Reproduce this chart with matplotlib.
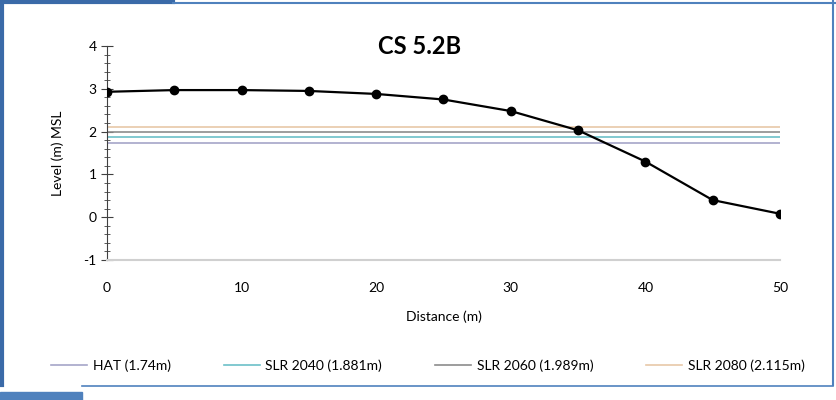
import matplotlib.pyplot as plt
from matplotlib.patches import Rectangle
from matplotlib.lines import Line2D
from matplotlib.ticker import MultipleLocator

plt.rcParams['font.family'] = ['Lato', 'DejaVu Sans']
plt.rcParams['axes.unicode_minus'] = False

distance = [0, 5, 10, 15, 20, 25, 30, 35, 40, 45, 50]
level = [2.93, 2.97, 2.97, 2.95, 2.88, 2.75, 2.48, 2.03, 1.30, 0.40, 0.08]

ref_names = ['HAT (1.74m)', 'SLR 2040 (1.881m)', 'SLR 2060 (1.989m)', 'SLR 2080 (2.115m)']
ref_levels = [1.74, 1.881, 1.989, 2.115]
ref_colors = ['#a6a6c8', '#6cc0c8', '#8c8c8c', '#e8c8a8']

fig = plt.figure(figsize=(8.37, 4.0), dpi=100)
ax = fig.add_axes([107 / 837, 1 - 260 / 400, (780 - 107) / 837, (260 - 46) / 400])

handles = []
for name, lev, col in zip(ref_names, ref_levels, ref_colors):
    h, = ax.plot([distance[0], distance[-1]], [lev, lev], color=col, lw=1.2, label=name)
    handles.append(h)

ax.plot(distance, level, color='black', lw=1.6, marker='o', ms=6, zorder=5)

ax.set_xlim(0, 50)
ax.set_ylim(-1, 4)
ax.xaxis.set_major_locator(MultipleLocator(10))
ax.yaxis.set_major_locator(MultipleLocator(1))
ax.yaxis.set_minor_locator(MultipleLocator(0.2))

for s in ['top', 'right']:
    ax.spines[s].set_visible(False)
ax.spines['left'].set_color('#404040')
ax.spines['bottom'].set_color('#d0d0d0')
ax.spines['bottom'].set_linewidth(1.5)
ax.tick_params(axis='y', which='major', direction='inout', length=8, color='#404040', labelsize=10)
ax.tick_params(axis='y', which='minor', direction='inout', length=5, color='#404040')
ax.tick_params(axis='x', length=0, pad=16, labelsize=10)

ax.set_xlabel('Distance (m)', fontsize=10, labelpad=12)
ax.set_ylabel('Level (m) MSL', fontsize=10, labelpad=14)
fig.text(420 / 837, 1 - 46 / 400, 'CS 5.2B', fontsize=17, fontweight='bold',
         ha='center', va='center')

fig.legend(handles=handles, loc='center', bbox_to_anchor=(428 / 837, 1 - 366 / 400),
           ncol=4, frameon=False, fontsize=10, handlelength=2.6, columnspacing=3.8,
           handletextpad=0.4)

# screenshot frame
fig.add_artist(Line2D([0, 173 / 837], [1 - 2 / 400, 1 - 2 / 400], color='#3a6aa8', lw=3))
fig.add_artist(Line2D([173 / 837, 1], [1 - 3 / 400, 1 - 3 / 400], color='#4f81bd', lw=1.5))
fig.add_artist(Line2D([2 / 837, 2 / 837], [1 - 385 / 400, 1], color='#3a6aa8', lw=3))
fig.add_artist(Line2D([833 / 837, 833 / 837], [1 - 385 / 400, 1], color='#4f81bd', lw=1.5))
fig.add_artist(Line2D([82 / 837, 833 / 837], [1 - 386 / 400, 1 - 386 / 400],
                      color='#4f81bd', lw=1.2))
fig.add_artist(Rectangle((0, 0), 82 / 837, 8 / 400, color='#4f81bd', transform=fig.transFigure))

fig.savefig('out.png', dpi=100)
